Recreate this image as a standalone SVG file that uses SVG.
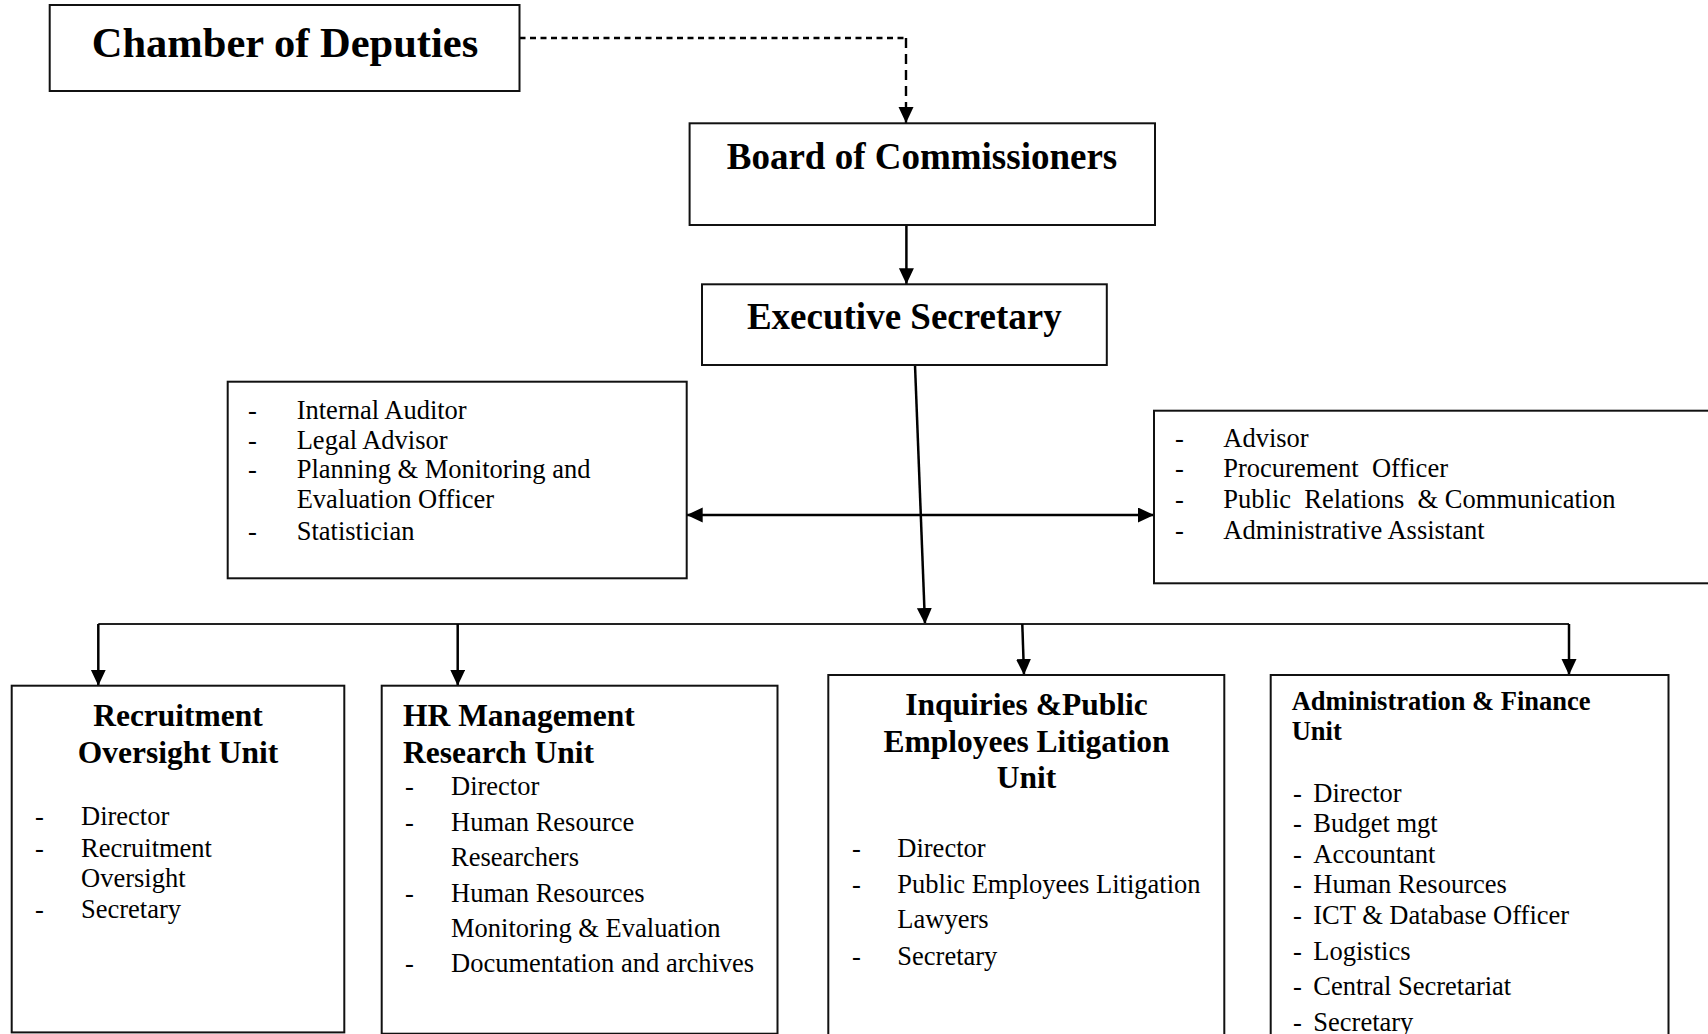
<svg xmlns="http://www.w3.org/2000/svg" width="1708" height="1034" viewBox="0 0 1708 1034">
<style>
  .box { fill: #ffffff; stroke: #111111; stroke-width: 2; }
  .t { font-family: "Liberation Serif", "Times New Roman", serif; fill: #000000; }
  .h1 { font-size: 42.5px; font-weight: bold; }
  .h2 { font-size: 37px; font-weight: bold; }
  .h3 { font-size: 31.5px; font-weight: bold; }
  .h4 { font-size: 26.5px; font-weight: bold; }
  .it { font-size: 26.5px; }
  .mid { text-anchor: middle; }
  .ln { fill: none; stroke: #000000; stroke-width: 2.5; }
  .bus { fill: none; stroke: #222222; stroke-width: 2; }
  .dash-h { fill: none; stroke: #000000; stroke-width: 2.4; stroke-dasharray: 6 4.5; }
  .dash-v { fill: none; stroke: #000000; stroke-width: 2.4; stroke-dasharray: 10 6; }
</style>
<defs>
  <marker id="arr" markerUnits="userSpaceOnUse" markerWidth="17" markerHeight="16" refX="16" refY="7.5" orient="auto-start-reverse">
    <path d="M0,0 L16,7.5 L0,15 z" fill="#000000"/>
  </marker>
</defs>
<rect width="1708" height="1034" fill="#ffffff"/>

<g id="connectors">
  <path class="dash-h" d="M519.5,38 H906"/>
  <path class="dash-v" d="M906,38 V123" marker-end="url(#arr)"/>
  <path class="ln" d="M906.4,225 V284.3" marker-end="url(#arr)"/>
  <path class="ln" d="M915,365 L925,624" marker-end="url(#arr)"/>
  <path class="ln" d="M686.7,515 H1154" marker-start="url(#arr)" marker-end="url(#arr)"/>
  <path class="bus" d="M98.3,624 H1569"/>
  <path class="ln" d="M98.3,624 V685.7" marker-end="url(#arr)"/>
  <path class="ln" d="M457.7,624 V685.7" marker-end="url(#arr)"/>
  <path class="ln" d="M1022.3,624 L1024,675" marker-end="url(#arr)"/>
  <path class="ln" d="M1569,624 V675" marker-end="url(#arr)"/>
</g>

<g id="chamber">
  <rect class="box" x="49.7" y="5" width="469.8" height="86"/>
  <text class="t h1 mid" x="285" y="57">Chamber of Deputies</text>
</g>

<g id="board">
  <rect class="box" x="689.6" y="123.3" width="465.4" height="101.7"/>
  <text class="t h2 mid" x="922" y="169.3">Board of Commissioners</text>
</g>

<g id="executive">
  <rect class="box" x="702" y="284.3" width="404.8" height="80.7"/>
  <text class="t h2 mid" x="904.3" y="329.3">Executive Secretary</text>
</g>

<g id="staff-left">
  <rect class="box" x="227.7" y="381.7" width="459" height="196.6"/>
  <text class="t it" x="248" y="419.3">-</text>
  <text class="t it" x="296.7" y="419.3">Internal Auditor</text>
  <text class="t it" x="248" y="448.8">-</text>
  <text class="t it" x="296.7" y="448.8">Legal Advisor</text>
  <text class="t it" x="248" y="478.3">-</text>
  <text class="t it" x="296.7" y="478.3">Planning &amp; Monitoring and</text>
  <text class="t it" x="296.7" y="508.3">Evaluation Officer</text>
  <text class="t it" x="248" y="540">-</text>
  <text class="t it" x="296.7" y="540">Statistician</text>
</g>

<g id="staff-right">
  <rect class="box" x="1154" y="410.7" width="570" height="172.6"/>
  <text class="t it" x="1175" y="446.7">-</text>
  <text class="t it" x="1223.3" y="446.7">Advisor</text>
  <text class="t it" x="1175" y="476.7">-</text>
  <text class="t it" x="1223.3" y="476.7" xml:space="preserve">Procurement  Officer</text>
  <text class="t it" x="1175" y="508.3">-</text>
  <text class="t it" x="1223.3" y="508.3" xml:space="preserve">Public  Relations  &amp; Communication</text>
  <text class="t it" x="1175" y="539.3">-</text>
  <text class="t it" x="1223.3" y="539.3">Administrative Assistant</text>
</g>

<g id="recruitment-unit">
  <rect class="box" x="11.7" y="685.7" width="332.6" height="346.7"/>
  <text class="t h3 mid" x="178" y="726">Recruitment</text>
  <text class="t h3 mid" x="178" y="762.7">Oversight Unit</text>
  <text class="t it" x="35" y="825">-</text>
  <text class="t it" x="81" y="825">Director</text>
  <text class="t it" x="35" y="856.7">-</text>
  <text class="t it" x="81" y="856.7">Recruitment</text>
  <text class="t it" x="81" y="886.5">Oversight</text>
  <text class="t it" x="35" y="918">-</text>
  <text class="t it" x="81" y="918">Secretary</text>
</g>

<g id="hr-research-unit">
  <rect class="box" x="381.7" y="685.7" width="395.8" height="348"/>
  <text class="t h3" x="403" y="726">HR Management</text>
  <text class="t h3" x="403" y="762.7">Research Unit</text>
  <text class="t it" x="405" y="795">-</text>
  <text class="t it" x="451" y="795">Director</text>
  <text class="t it" x="405" y="830.7">-</text>
  <text class="t it" x="451" y="830.7">Human Resource</text>
  <text class="t it" x="451" y="865.7">Researchers</text>
  <text class="t it" x="405" y="901.7">-</text>
  <text class="t it" x="451" y="901.7">Human Resources</text>
  <text class="t it" x="451" y="937.3">Monitoring &amp; Evaluation</text>
  <text class="t it" x="405" y="972.3">-</text>
  <text class="t it" x="451" y="972.3">Documentation and archives</text>
</g>

<g id="inquiries-unit">
  <rect class="box" x="828.3" y="675" width="396" height="380"/>
  <text class="t h3 mid" x="1026.5" y="715">Inquiries &amp;Public</text>
  <text class="t h3 mid" x="1026.5" y="751.7">Employees Litigation</text>
  <text class="t h3 mid" x="1026.5" y="788.3">Unit</text>
  <text class="t it" x="852" y="857.3">-</text>
  <text class="t it" x="897.3" y="857.3">Director</text>
  <text class="t it" x="852" y="893.3">-</text>
  <text class="t it" x="897.3" y="893.3">Public Employees Litigation</text>
  <text class="t it" x="897.3" y="928.3">Lawyers</text>
  <text class="t it" x="852" y="965">-</text>
  <text class="t it" x="897.3" y="965">Secretary</text>
</g>

<g id="admin-finance-unit">
  <rect class="box" x="1270.7" y="675" width="397.8" height="380"/>
  <text class="t h4" x="1291.7" y="710">Administration &amp; Finance</text>
  <text class="t h4" x="1291.7" y="740">Unit</text>
  <text class="t it" x="1293" y="801.7">-</text>
  <text class="t it" x="1313.3" y="801.7">Director</text>
  <text class="t it" x="1293" y="831.7">-</text>
  <text class="t it" x="1313.3" y="831.7">Budget mgt</text>
  <text class="t it" x="1293" y="863.3">-</text>
  <text class="t it" x="1313.3" y="863.3">Accountant</text>
  <text class="t it" x="1293" y="893.3">-</text>
  <text class="t it" x="1313.3" y="893.3">Human Resources</text>
  <text class="t it" x="1293" y="924.3">-</text>
  <text class="t it" x="1313.3" y="924.3">ICT &amp; Database Officer</text>
  <text class="t it" x="1293" y="960">-</text>
  <text class="t it" x="1313.3" y="960">Logistics</text>
  <text class="t it" x="1293" y="995">-</text>
  <text class="t it" x="1313.3" y="995">Central Secretariat</text>
  <text class="t it" x="1293" y="1031">-</text>
  <text class="t it" x="1313.3" y="1031">Secretary</text>
</g>
</svg>
